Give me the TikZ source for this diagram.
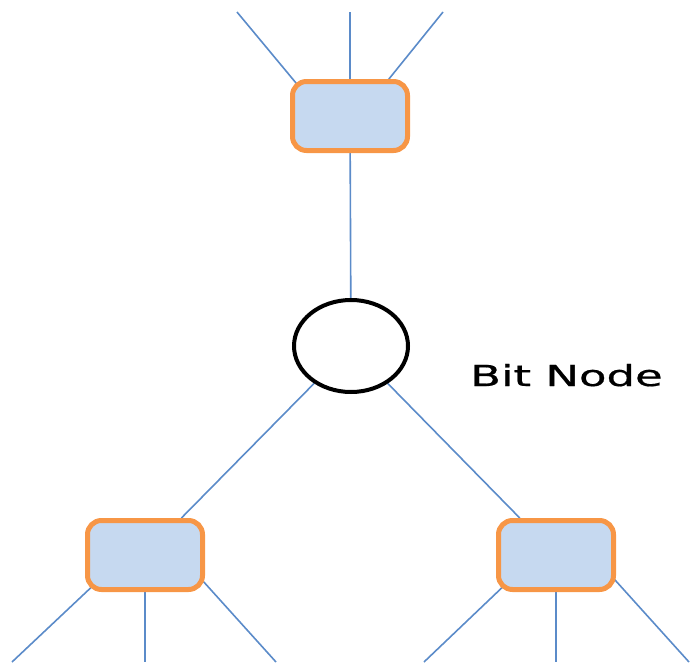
\documentclass[tikz,border=0pt]{standalone}
\usepackage{fontspec}
\newfontfamily\labelfont[FakeBold=0.6]{DejaVu Sans}
\usetikzlibrary{shapes.geometric,backgrounds,calc}
\definecolor{boxfill}{HTML}{C6D9F0}
\definecolor{boxline}{HTML}{F79646}
\definecolor{edgeblue}{HTML}{5B8BC9}
\tikzset{
  checkbox/.style={draw=boxline, fill=boxfill, line width=5pt, rounded corners=14pt,
    rectangle, minimum width=115pt, minimum height=69pt, inner sep=0pt},
  bitnode/.style={draw=black, fill=white, line width=4pt, ellipse,
    minimum width=114pt, minimum height=92pt, inner sep=0pt},
  edge/.style={draw=edgeblue, line width=1.6pt}
}
\begin{document}
\begin{tikzpicture}[x=1pt, y=-1pt]
\useasboundingbox (0,0) rectangle (696,662);
\node[checkbox] (tb) at (350,116) {};
\node[bitnode] (bit) at (351,346) {};
\node[checkbox] (bl) at (145,555) {};
\node[checkbox] (br) at (556,555) {};
\node[anchor=base west, inner sep=0pt] (lbl) at (470,386)
  {\labelfont\fontsize{29}{34}\selectfont\scalebox{1.55}[1]{Bit Node}};
\coordinate (t1) at (237,12);
\coordinate (t2) at (350,12);
\coordinate (t3) at (443,12);
\coordinate (l1) at (12,662);
\coordinate (l2) at (145,662);
\coordinate (l3) at (276,662);
\coordinate (r1) at (424,662);
\coordinate (r2) at (556,662);
\coordinate (r3) at (689,662);
\begin{scope}[on background layer]
\draw[edge] (t1) -- ($(tb.north west)+(16,16)$);
\draw[edge] (t2) -- (tb.north);
\draw[edge] (t3) -- ($(tb.north east)+(-34,16)$);
\draw[edge] (tb) -- (bit);
\draw[edge] (bit) -- (bl);
\draw[edge] (bit) -- (br);
\draw[edge] ($(bl.south west)+(14,-12)$) -- (l1);
\draw[edge] (bl.south) -- (l2);
\draw[edge] ($(bl.south east)+(-12,-22)$) -- (l3);
\draw[edge] ($(br.south west)+(14,-12)$) -- (r1);
\draw[edge] (br.south) -- (r2);
\draw[edge] ($(br.south east)+(-10,-22)$) -- (r3);
\end{scope}
\end{tikzpicture}
\end{document}
